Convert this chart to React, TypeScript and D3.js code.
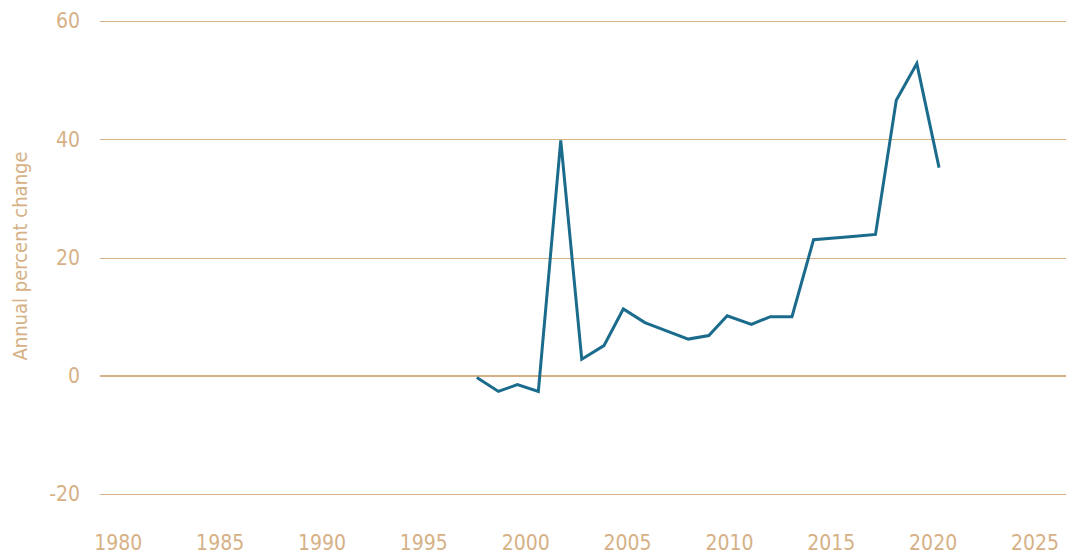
import React from "react";
import * as d3 from "d3";

// decimal years (points are not exactly on Jan 1)
const years = [
  1997.6, 1998.66, 1999.59, 2000.62, 2001.72, 2002.75, 2003.84, 2004.79,
  2005.85, 2006.91, 2007.98, 2008.99, 2009.89, 2011.08, 2012.01, 2013.07,
  2014.13, 2015.15, 2016.18, 2017.17, 2018.19, 2019.2, 2020.29,
];
const values = [
  -0.3, -2.65, -1.5, -2.65, 39.8, 2.8, 5.1, 11.3, 9.0, 7.6, 6.2, 6.8, 10.15,
  8.7, 10.0, 10.0, 23.0, 23.3, 23.6, 23.9, 46.6, 52.8, 35.2,
];
const yTicks = [-20, 0, 20, 40, 60];
const xTicks = [1980, 1985, 1990, 1995, 2000, 2005, 2010, 2015, 2020, 2025];
const yLabel = "Annual percent change";

const App = () => {
  const width = 1066;
  const height = 555;
  const tan = "#d6b186";
  const font = "'Liberation Sans Narrow', 'DejaVu Sans Condensed', sans-serif";

  const xScale = d3.scaleLinear().domain([1980, 2025]).range([118.3, 1035]);
  const yScale = d3.scaleLinear().domain([-20, 60]).range([494, 21]);

  const data = years.map((y, i) => ({ x: y, y: values[i] }));

  const line = d3
    .line<{ x: number; y: number }>()
    .x((d) => xScale(d.x))
    .y((d) => yScale(d.y));

  return (
    <svg
      width={width}
      height={height}
      style={{ position: "absolute", left: 0, top: 0, background: "#fff" }}
    >
      {/* grid */}
      {yTicks.map((t) => {
        const y = t === 0 ? Math.round(yScale(t)) : Math.round(yScale(t)) + 0.5;
        return (
          <line
            key={"g" + t}
            x1={100}
            x2={width}
            y1={y}
            y2={y}
            stroke={tan}
            strokeWidth={t === 0 ? 2 : 1}
          />
        );
      })}
      {/* y labels */}
      {yTicks.map((t) => (
        <text
          key={"y" + t}
          x={80}
          y={yScale(t)}
          dy="0.35em"
          textAnchor="end"
          fill={tan}
          fontFamily={font}
          fontSize={21}
        >
          {t}
        </text>
      ))}
      {/* x labels */}
      {xTicks.map((t) => (
        <text
          key={"x" + t}
          x={xScale(t)}
          y={550}
          textAnchor="middle"
          fill={tan}
          fontFamily={font}
          fontSize={21}
        >
          {t}
        </text>
      ))}
      <text
        transform={`translate(27,256) rotate(-90)`}
        textAnchor="middle"
        fill={tan}
        fontFamily={font}
        fontSize={20}
      >
        {yLabel}
      </text>
      <path
        d={line(data) || ""}
        fill="none"
        stroke="#1b6b8c"
        strokeWidth={3}
        strokeLinejoin="miter"
      />
    </svg>
  );
};

export default App;
